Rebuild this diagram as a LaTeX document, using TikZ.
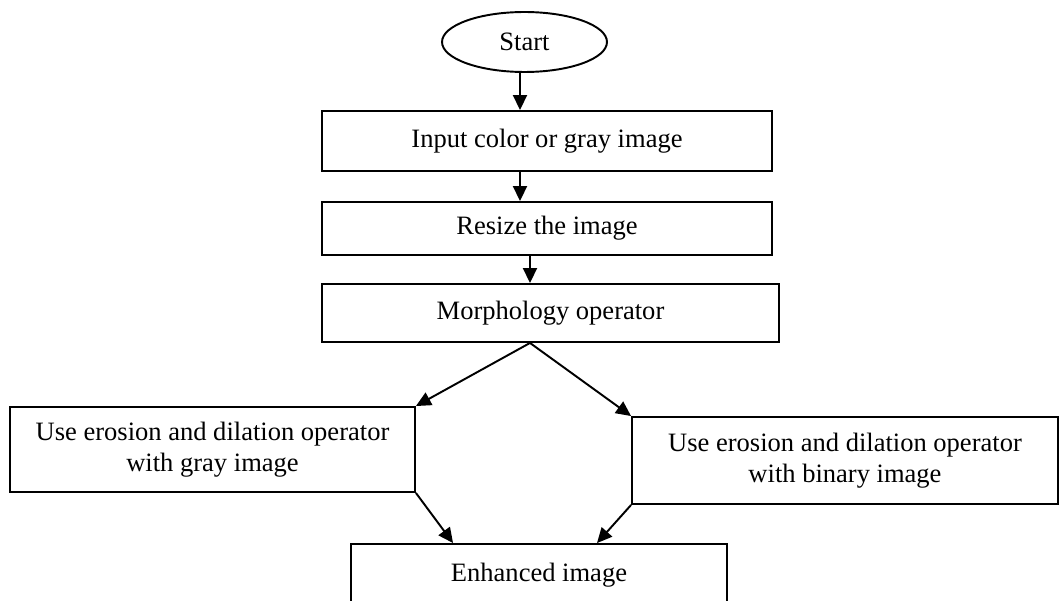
\documentclass[tikz,border=0pt]{standalone}
\usepackage{fontspec}
\setmainfont{Liberation Serif}
\usetikzlibrary{arrows.meta,shapes.geometric}
\begin{document}
\begin{tikzpicture}[x=0.02cm,y=-0.02cm,
  base/.style={draw,line width=1.1pt,inner sep=0pt,align=center,font=\fontsize{15.1}{17.6}\selectfont},
  box/.style={base,rectangle},
  oval/.style={base,ellipse},
  arr/.style={line width=1.1pt,-{Triangle[length=0.3cm,width=0.28cm]}}]
\useasboundingbox (0,0) rectangle (1059,601);
\clip (0,0) rectangle (1059,601);
\node[oval,minimum width=3.3cm,minimum height=1.2cm] (start) at (524.5,42) {Start};
\node[box,minimum width=9cm,minimum height=1.2cm] (in1) at (547,141) {Input color or gray image};
\node[box,minimum width=9cm,minimum height=1.06cm] (rs) at (547,228.5) {Resize the image};
\node[box,minimum width=9.14cm,minimum height=1.16cm] (mo) at (550.5,313) {Morphology operator};
\node[box,minimum width=8.1cm,minimum height=1.7cm] (gr) at (212.5,449.5) {Use erosion and dilation operator\\with gray image};
\node[box,minimum width=8.52cm,minimum height=1.74cm] (bi) at (845,460.5) {Use erosion and dilation operator\\with binary image};
\node[box,minimum width=7.52cm,minimum height=1.24cm] (en) at (539,575) {Enhanced image};
\draw[arr] ([xshift=-0.09cm]start.south) -- ([xshift=-0.09cm]start.south |- in1.north);
\draw[arr] ([xshift=-0.54cm]in1.south) -- ([xshift=-0.54cm]in1.south |- rs.north);
\draw[arr] ([xshift=-0.34cm]rs.south) -- ([xshift=-0.34cm]rs.south |- mo.north);
\coordinate (apex) at ([xshift=-0.41cm]mo.south);
\draw[arr] (apex) -- (gr.north east);
\draw[arr] (apex) -- (bi.north west);
\draw[arr] (gr.south east) -- ([xshift=2.06cm]en.north west);
\draw[arr] (bi.south west) -- ([xshift=4.94cm]en.north west);
\end{tikzpicture}
\end{document}
